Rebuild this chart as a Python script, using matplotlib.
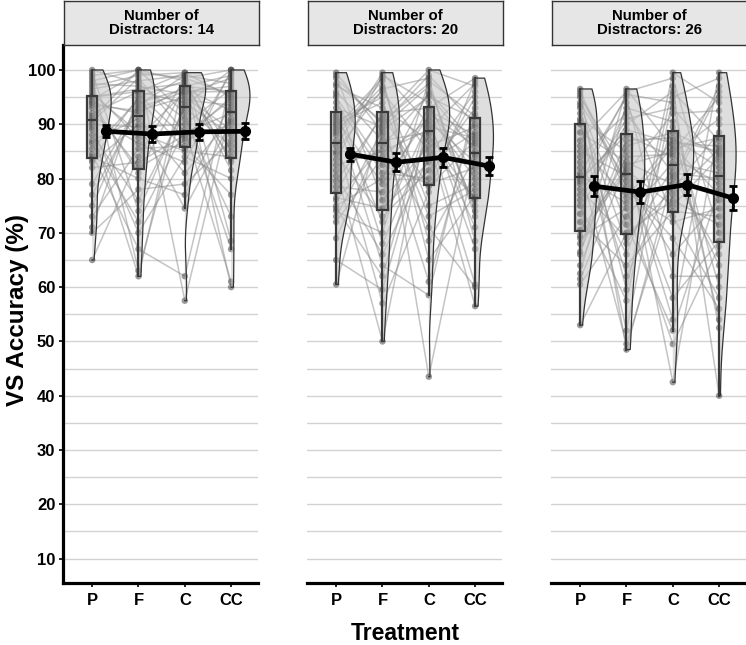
import numpy as np
import matplotlib
matplotlib.use("Agg")
import matplotlib.pyplot as plt
from matplotlib.patches import Polygon

plt.rcParams['font.family'] = ['Liberation Sans', 'DejaVu Sans']
plt.rcParams['font.weight'] = 'bold'

treatments = ["P", "F", "C", "CC"]
distractors = [14, 20, 26]

# per-subject accuracy (%) per treatment, facet "14 distractors"
acc_14_P = [92, 65, 98, 86.5, 77, 95.5, 89, 100, 83, 94, 71, 97, 88, 91.5, 75, 99, 84.5, 93.5, 82, 96.5,
            90, 70, 95, 85.5, 98.5, 73, 94.5, 87, 99.5, 79, 91, 96, 84, 83.5, 93, 97.5, 89.5, 94, 90.5, 95]
acc_14_F = [96, 84, 100, 72, 93, 88.5, 62, 97.5, 90, 81, 95.5, 99, 76, 86.5, 94, 100, 67, 92.5, 83, 98,
            89.5, 78, 96.5, 94.5, 63, 85.5, 99.5, 91, 74, 93.5, 100, 87.5, 80, 95, 82, 97, 70, 92, 98.5, 96]
acc_14_C = [94, 98.5, 57.5, 89, 96, 85, 99, 91, 74.5, 97, 87.5, 99.5, 93, 83, 96.5, 98, 62, 95, 88, 99,
            90, 79, 97.5, 85.5, 94.5, 86, 98.5, 81, 93.5, 99, 92, 96, 77, 98, 87, 95.5, 84, 97, 88.5, 99.5]
acc_14_CC = [88, 100, 93, 61, 96, 84, 97.5, 73, 90.5, 99, 95, 68.5, 86, 100, 92.5, 81.5, 98, 89, 94.5, 60,
             96.5, 87, 83.5, 99.5, 93.5, 77, 95.5, 91, 100, 85, 67, 97, 94, 83, 90, 98.5, 80, 96, 92, 95]

# facet "20 distractors"
acc_20_P = [89, 74, 99.5, 81.5, 60.5, 95, 86, 91.5, 76, 97, 78.5, 88, 65, 93, 84.5, 90.5, 72, 98.5, 80.5, 89.5,
            75, 96, 87, 77.5, 99, 83.5, 69, 92, 85, 94, 74.5, 90, 82.5, 97.5, 76.5, 88.5, 73, 95.5, 79.5, 91]
acc_20_F = [96, 70, 88.5, 50, 91, 82.5, 99.5, 64, 86, 93, 77.5, 97, 59.5, 89.5, 73, 95, 84, 90, 66, 98.5,
            80, 87, 57, 92, 76, 99, 88, 72, 96.5, 81, 62, 94, 85, 90.5, 74.5, 98, 89, 68, 91.5, 79]
acc_20_C = [85, 98, 71, 92.5, 100, 79, 90, 58.5, 95.5, 87, 93, 75, 89.5, 97, 81.5, 43.5, 91, 99, 84, 65,
            96, 88.5, 77.5, 93, 86, 94, 61, 90.5, 98.5, 80, 92, 73, 89, 97.5, 83, 68.5, 95, 88, 78.5, 91.5]
acc_20_CC = [76.5, 91.5, 60, 88, 97, 82, 71, 94, 85, 56.5, 98.5, 79, 87.5, 74, 93, 84.5, 67, 90, 96, 77,
             86.5, 60.5, 98, 81, 89.5, 75, 92, 83, 68.5, 95, 86, 78, 97.5, 73, 88.5, 84, 91, 76, 87, 80]

# facet "26 distractors"
acc_26_P = [80, 93, 62.5, 86, 70.5, 96.5, 77, 53, 91, 83, 66, 94, 75, 88.5, 60.5, 81, 95, 72, 79.5, 69,
            90.5, 84, 64, 96, 78, 87, 61.5, 93.5, 73.5, 82, 68, 95.5, 79, 90, 66.5, 85, 76, 92, 69.5, 80.5]
acc_26_F = [88, 59.5, 94, 76.5, 82, 48.5, 91, 70, 85, 66, 96.5, 79.5, 57.5, 83, 73, 95, 81, 64, 89, 74.5,
            52, 92, 86, 78.5, 69, 96, 82.5, 71.5, 93, 49.5, 84, 77.5, 95.5, 62, 87, 80.5, 90, 68, 81.5, 75.5]
acc_26_C = [84, 99.5, 73, 87, 54, 80.5, 93, 76, 42.5, 89.5, 85.5, 66, 97, 79, 83, 62, 92, 74, 86.5, 49.5,
            95, 81, 88.5, 69, 78, 98.5, 85, 52, 90.5, 77, 84.5, 72, 94, 80, 87.5, 58, 96, 82, 75, 86]
acc_26_CC = [79, 94, 58, 85, 99.5, 66, 83, 71.5, 90, 54, 87.5, 76, 40, 96, 81, 62, 92.5, 73, 86, 67.5,
             98.5, 80, 84.5, 56, 88.5, 70, 95, 78, 60, 85.5, 91, 74.5, 52.5, 97, 82, 68.5, 87, 64, 84, 77]

# group means and standard errors
mean_14 = [88.7, 88.2, 88.6, 88.7]
se_14 = [1.1, 1.4, 1.5, 1.5]
mean_20 = [84.5, 83.0, 83.9, 82.3]
se_20 = [1.2, 1.7, 1.75, 1.6]
mean_26 = [78.6, 77.5, 78.9, 76.4]
se_26 = [1.9, 2.0, 2.0, 2.15]

facets = [
    ([acc_14_P, acc_14_F, acc_14_C, acc_14_CC], mean_14, se_14),
    ([acc_20_P, acc_20_F, acc_20_C, acc_20_CC], mean_20, se_20),
    ([acc_26_P, acc_26_F, acc_26_C, acc_26_CC], mean_26, se_26),
]

W, H = 746, 645
fig = plt.figure(figsize=(W / 100, H / 100), dpi=100)

panel_left = [63, 307, 551]
panel_w = 195
panel_top, panel_bot = 45, 583
strip_top = 1


def nrd0(x):
    x = np.asarray(x, float)
    sd = np.std(x, ddof=1)
    iqr = np.percentile(x, 75) - np.percentile(x, 25)
    lo = min(sd, iqr / 1.34)
    return 0.9 * lo * len(x) ** (-0.2)


def kde(x, grid):
    x = np.asarray(x, float)
    bw = nrd0(x)
    d = np.exp(-0.5 * ((grid[:, None] - x[None, :]) / bw) ** 2).sum(axis=1)
    return d / (len(x) * bw * np.sqrt(2 * np.pi))


xpos = np.arange(1, len(treatments) + 1)

for fi, (groups, means, ses) in enumerate(facets):
    l = panel_left[fi]
    ax = fig.add_axes([l / W, 1 - panel_bot / H, panel_w / W, (panel_bot - panel_top) / H])
    ax.set_xlim(0.37, 4.58)
    ax.set_ylim(5.5, 104.6)
    ax.set_yticks(np.arange(10, 101, 10))
    ax.set_yticks(np.arange(15, 101, 10), minor=True)
    ax.grid(which='both', axis='y', color='#d2d2d2', lw=1.0, zorder=0)
    ax.set_axisbelow(True)
    for s in ['top', 'right']:
        ax.spines[s].set_visible(False)
    ax.spines['bottom'].set_linewidth(2.3)
    ax.spines['left'].set_linewidth(2.3)
    ax.tick_params(axis='y', which='minor', length=0)
    ax.tick_params(axis='both', which='major', length=3, width=1.2, labelsize=12,
                   colors='black')
    ax.tick_params(axis='x', pad=4)
    ax.tick_params(axis='y', pad=2.5)
    if fi > 0:
        ax.spines['left'].set_visible(False)
        ax.tick_params(axis='y', which='both', length=0, labelleft=False)
    ax.set_xticks(xpos)
    ax.set_xticklabels(treatments, fontweight='bold')
    for t in ax.get_yticklabels():
        t.set_fontweight('bold')

    data = [np.asarray(g, float) for g in groups]
    n = len(data[0])
    # subject lines
    for i in range(n):
        ax.plot(xpos, [d[i] for d in data], color='#8a8a8a', alpha=0.5, lw=1.1, zorder=1)
    # points
    for k, d in enumerate(data):
        ax.scatter(np.full(n, xpos[k]), d, s=22, color='#4a4a4a', alpha=0.55,
                   edgecolors='none', zorder=2)
    # half violins (area scaled within panel)
    dens = []
    grids = []
    for d in data:
        g = np.linspace(d.min(), d.max(), 256)
        grids.append(g)
        dens.append(kde(d, g))
    dmax = max(dd.max() for dd in dens)
    for k in range(len(data)):
        w = dens[k] / dmax * 0.45
        xs = np.concatenate([[xpos[k]], xpos[k] + w, [xpos[k]]])
        ys = np.concatenate([[grids[k][0]], grids[k], [grids[k][-1]]])
        poly = Polygon(np.column_stack([xs, ys]), closed=True, facecolor='#c4c4c4',
                       alpha=0.55, edgecolor='none', zorder=3)
        ax.add_patch(poly)
        ax.plot(xs, ys, color='#333333', lw=0.9, zorder=3.1)
    # boxplots
    bp = ax.boxplot(data, positions=xpos, widths=0.22, patch_artist=True,
                    showfliers=False, manage_ticks=False, zorder=4)
    for b in bp['boxes']:
        b.set_facecolor((0.4, 0.4, 0.4, 0.3))
        b.set_edgecolor('#3a3a3a')
        b.set_linewidth(1.6)
    for key in ['whiskers', 'medians']:
        for ln in bp[key]:
            ln.set_color('#3a3a3a')
            ln.set_linewidth(1.6)
    for ln in bp['caps']:
        ln.set_visible(False)
    # means with standard errors
    mx = xpos + 0.3
    ax.plot(mx, means, color='black', lw=3.4, zorder=6, solid_capstyle='round')
    ax.errorbar(mx, means, yerr=ses, fmt='o', color='black', ms=7, elinewidth=2,
                capsize=3, capthick=2, zorder=7)

    # strip
    sax = fig.add_axes([(l + 1) / W, 1 - panel_top / H, panel_w / W, (panel_top - strip_top) / H])
    sax.set_facecolor('#e6e6e6')
    sax.set_xticks([])
    sax.set_yticks([])
    for s in sax.spines.values():
        s.set_color('#333333')
        s.set_linewidth(1.0)
    sax.text(0.5, 0.5, "Number of\nDistractors: %d" % distractors[fi], ha='center',
             va='center', fontsize=10.8, fontweight='bold', linespacing=1.0,
             transform=sax.transAxes)

fig.text(18 / W, 1 - 310 / H, "VS Accuracy (%)", rotation=90, ha='center', va='center',
         fontsize=17.5, fontweight='bold')
fig.text(405 / W, 1 - 634 / H, "Treatment", ha='center', va='center',
         fontsize=16.5, fontweight='bold')

fig.savefig("out.png", dpi=100)
